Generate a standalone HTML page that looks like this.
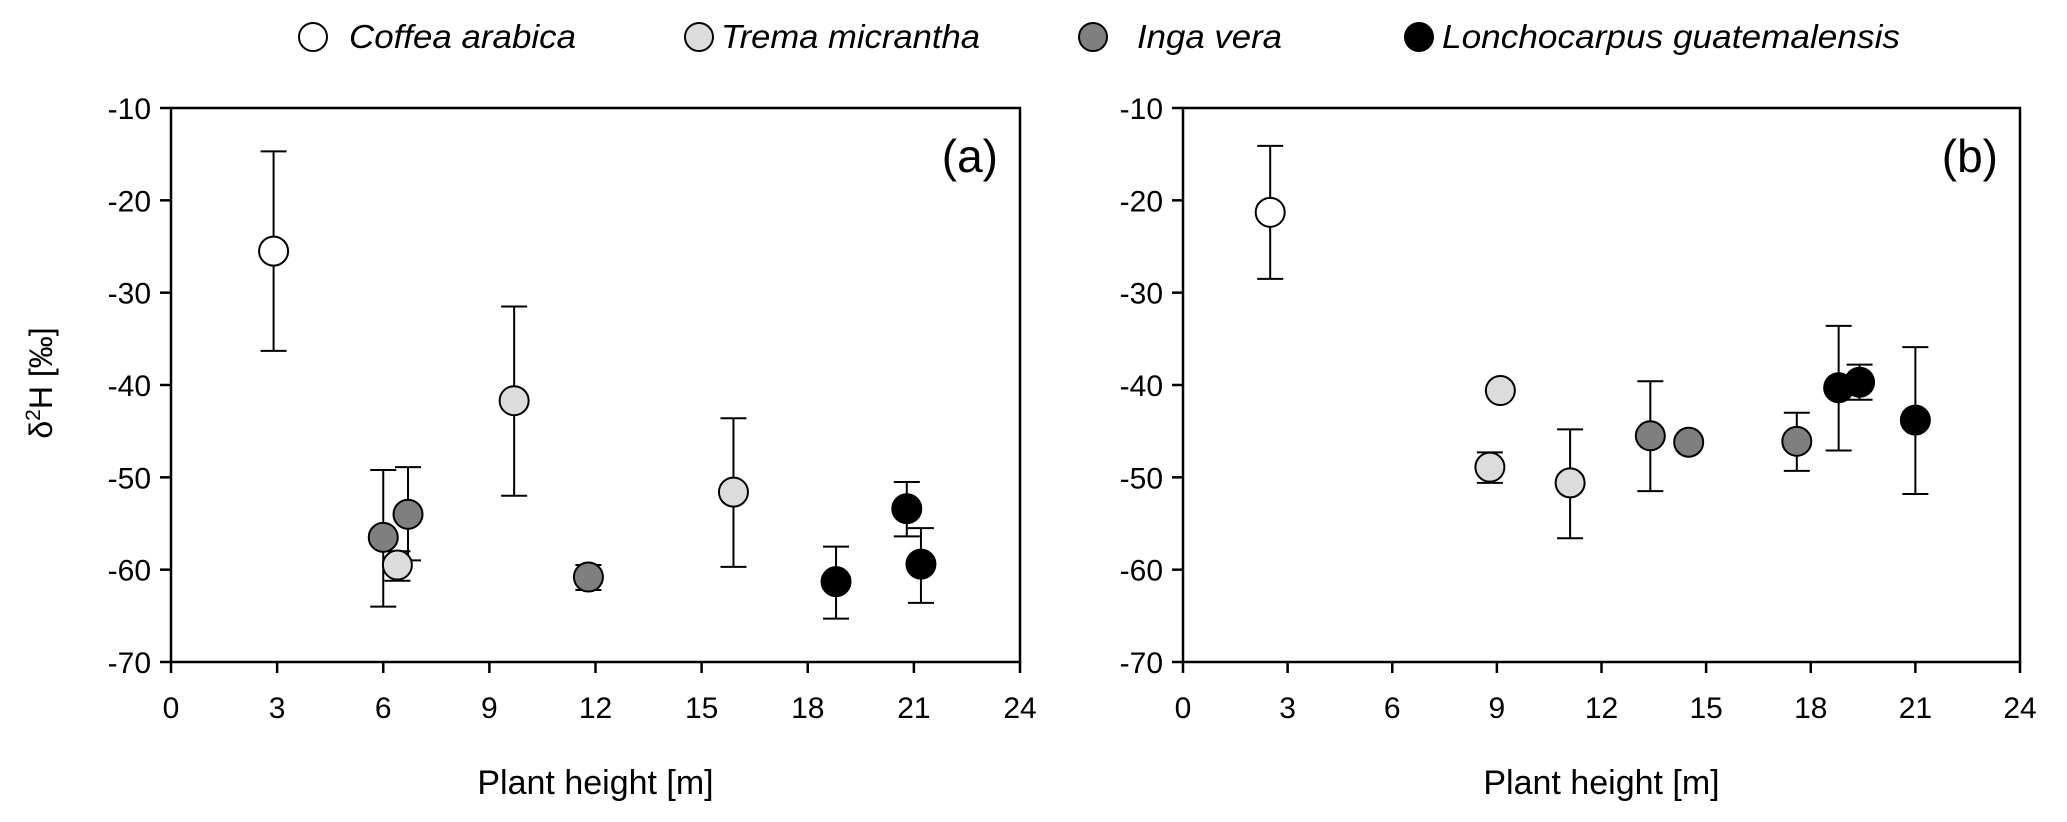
<!DOCTYPE html>
<html><head><meta charset="utf-8"><style>
body{margin:0;background:#fff}
svg{display:block;font-family:"Liberation Sans",Arial,sans-serif}
</style></head><body>
<svg id="chart" width="2067" height="822" viewBox="0 0 2067 822">
<g id="legend">
 <g><circle cx="313" cy="37" r="14" fill="#fff" stroke="#000" stroke-width="2"/><text x="349" y="48" font-size="33" font-style="italic" textLength="227" lengthAdjust="spacingAndGlyphs">Coffea arabica</text></g>
 <g><circle cx="699" cy="37" r="14" fill="#dcdcdc" stroke="#000" stroke-width="2"/><text x="721" y="48" font-size="33" font-style="italic" textLength="259" lengthAdjust="spacingAndGlyphs">Trema micrantha</text></g>
 <g><circle cx="1093" cy="37" r="14" fill="#7f7f7f" stroke="#000" stroke-width="2"/><text x="1137" y="48" font-size="33" font-style="italic" textLength="145" lengthAdjust="spacingAndGlyphs">Inga vera</text></g>
 <g><circle cx="1419" cy="37" r="14" fill="#000" stroke="#000" stroke-width="2"/><text x="1442" y="48" font-size="33" font-style="italic" textLength="458" lengthAdjust="spacingAndGlyphs">Lonchocarpus guatemalensis</text></g>
</g>
<text transform="translate(52,383) rotate(-90)" text-anchor="middle" font-size="32">δ<tspan font-size="21" dy="-12">2</tspan><tspan dy="12">H [‰]</tspan></text>
</svg>
<script>
const xTicks=[0,3,6,9,12,15,18,21,24];
const yTicks=[-10,-20,-30,-40,-50,-60,-70];
const seriesNames=["coffea","trema","inga","lonchocarpus"];
const seriesFill=["#fff","#dcdcdc","#7f7f7f","#000"];
// Panel a
const aX=[[2.9],[6.4,9.7,15.9],[6.0,6.7,11.8],[18.8,20.8,21.2]];
const aY=[[-25.5],[-59.5,-41.7,-51.6],[-56.5,-54.0,-60.8],[-61.3,-53.4,-59.4]];
const aHi=[[-14.7],[-58.0,-31.5,-43.6],[-49.2,-48.9,-59.5],[-57.5,-50.5,-55.5]];
const aLo=[[-36.3],[-61.2,-52.0,-59.7],[-64.0,-59.0,-62.2],[-65.3,-56.4,-63.6]];
// Panel b
const bX=[[2.5],[9.1,8.8,11.1],[13.4,14.5,17.6],[18.8,19.4,21.0]];
const bY=[[-21.3],[-40.6,-48.9,-50.6],[-45.5,-46.2,-46.1],[-40.3,-39.7,-43.8]];
const bHi=[[-14.1],[null,-47.3,-44.8],[-39.6,-45.6,-43.0],[-33.6,-37.8,-35.9]];
const bLo=[[-28.5],[null,-50.6,-56.6],[-51.5,-46.8,-49.3],[-47.1,-41.6,-51.8]];

const NS="http://www.w3.org/2000/svg";
const svg=document.getElementById('chart');
function mk(tag,attrs,parent){const e=document.createElementNS(NS,tag);for(const k in attrs)e.setAttribute(k,attrs[k]);(parent||svg).appendChild(e);return e;}

function panel(id,L,R,T,B,X,Y,HI,LO,label){
  const g=mk('g',{});
  
  
  const xs=v=>L+(v-0)/24*(R-L);
  const ys=v=>T+(-10-v)/60*(B-T);
  const frame=mk('rect',{x:L,y:T,width:R-L,height:B-T,fill:'none',stroke:'#000','stroke-width':2.5},g);
  
  
  xTicks.forEach(t=>{
    mk('line',{x1:xs(t),x2:xs(t),y1:B,y2:B+11,stroke:'#000','stroke-width':2.5},g);
    const tx=mk('text',{x:xs(t),y:B+56,'text-anchor':'middle','font-size':30},g);
    tx.textContent=t;
    
    
  });
  yTicks.forEach(t=>{
    mk('line',{x1:L-11,x2:L,y1:ys(t),y2:ys(t),stroke:'#000','stroke-width':2.5},g);
    const tx=mk('text',{x:L-20,y:ys(t)+11,'text-anchor':'end','font-size':30},g);
    tx.textContent=t;
    
    
  });
  const xt=mk('text',{x:(L+R)/2,y:794,'text-anchor':'middle','font-size':34},g);
  xt.textContent='Plant height [m]';
  
  
  const pl=mk('text',{x:R-22,y:T+64,'text-anchor':'end','font-size':46},g);
  pl.textContent=label;
  
  
  X.forEach((arr,s)=>{
    arr.forEach((x,i)=>{
      const cx=xs(x);
      if(HI[s][i]!==null){
        const eb=mk('g',{stroke:'#000','stroke-width':2},g);
        
        
        const y1=ys(HI[s][i]),y2=ys(LO[s][i]);
        mk('line',{x1:cx,x2:cx,y1:y1,y2:y2},eb);
        mk('line',{x1:cx-13,x2:cx+13,y1:y1,y2:y1},eb);
        mk('line',{x1:cx-13,x2:cx+13,y1:y2,y2:y2},eb);
      }
    });
  });
  X.forEach((arr,s)=>{
    arr.forEach((x,i)=>{
      const c=mk('circle',{cx:xs(x),cy:ys(Y[s][i]),r:14.5,fill:seriesFill[s],stroke:'#000','stroke-width':2},g);
      
      
    });
  });
}
panel('a',171,1020,108,662,aX,aY,aHi,aLo,'(a)');
panel('b',1183,2020,108,662,bX,bY,bHi,bLo,'(b)');
</script>
</body></html>
